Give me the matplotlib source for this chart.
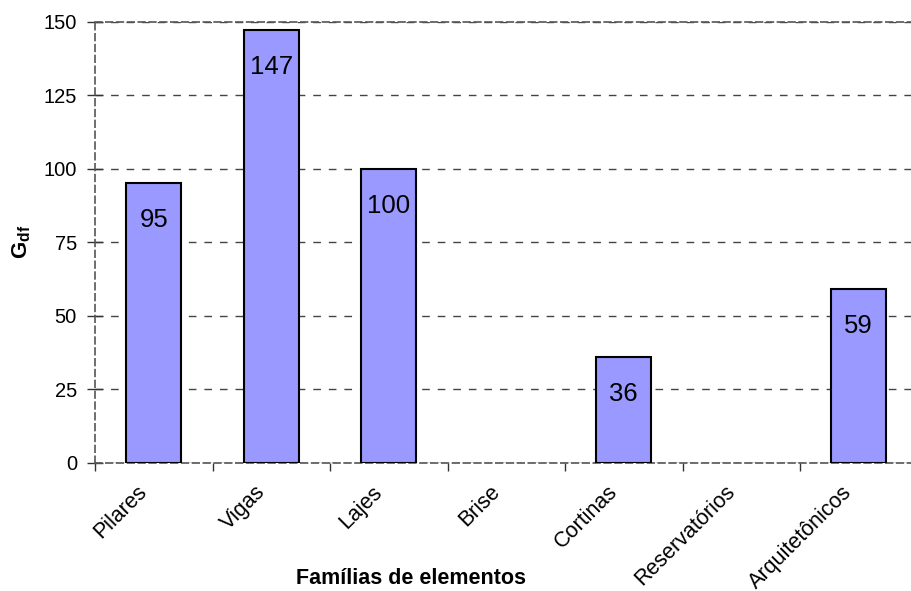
import matplotlib
matplotlib.use("Agg")
import matplotlib.pyplot as plt
import matplotlib.transforms as mtransforms
import numpy as np

categories = ["Pilares", "Vigas", "Lajes", "Brise", "Cortinas", "Reservatórios", "Arquitetônicos"]
values = [95, 147, 100, 0, 36, 0, 59]
yticks = [0, 25, 50, 75, 100, 125, 150]

plt.rcParams['font.family'] = ['Liberation Sans', 'DejaVu Sans']
plt.rcParams['mathtext.fontset'] = 'custom'
plt.rcParams['mathtext.rm'] = 'Liberation Sans'
plt.rcParams['mathtext.bf'] = 'Liberation Sans:bold'

W, H = 911, 591
fig = plt.figure(figsize=(W/100, H/100), dpi=100)
ax_l, ax_r, ax_t, ax_b = 95, 917.5, 21.5, 463
ax = fig.add_axes([ax_l/W, 1 - ax_b/H, (ax_r-ax_l)/W, (ax_b-ax_t)/H])

x = np.arange(len(categories))
lw = [1.5 if v > 0 else 0 for v in values]
ax.bar(x, values, width=0.47, color='#9999FF', edgecolor='black', linewidth=lw, zorder=3)
for xi, v in zip(x, values):
    if v > 0:
        ax.annotate(str(v), (xi, v), xytext=(0, -37), textcoords='offset pixels',
                    ha='center', va='center', fontsize=18.5, zorder=4)

ax.set_xlim(-0.5, len(categories) - 0.5)
ax.set_ylim(0, 150)
ax.set_yticks(yticks)
ax.tick_params(axis='y', labelsize=14.5, direction='inout', length=12, width=1, color='#333333', pad=7)
ax.yaxis.grid(True, linestyle=(0, (5.5, 5.7)), color='#444444', linewidth=1, zorder=1)

ax.set_xticks(x)
ax.set_xticklabels(categories, rotation=45, ha='right', va='center', rotation_mode='anchor', fontsize=15.5)
ax.tick_params(axis='x', which='major', length=0, pad=0)
ax.set_xticks(np.arange(len(categories) + 1) - 0.5, minor=True)
ax.tick_params(axis='x', which='minor', direction='out', length=6, width=1, color='#333333')
off = mtransforms.ScaledTranslation(-9.5/100, -26/100, fig.dpi_scale_trans)
for lab in ax.get_xticklabels():
    lab.set_transform(lab.get_transform() + off)

for s in ['left', 'bottom', 'top']:
    ax.spines[s].set_linestyle((0, (4, 2.5)))
    ax.spines[s].set_color('#555555')
    ax.spines[s].set_linewidth(1.2)
ax.spines['right'].set_visible(False)

fig.text(22/W, 1 - 242/H, r'$\mathbf{G_{df}}$', rotation=90, ha='center', va='center', fontsize=16)
fig.text(411.5/W, 1 - 578/H, 'Famílias de elementos', ha='center', va='center', fontsize=15.5, fontweight='bold')

fig.savefig('out.png', dpi=100)
